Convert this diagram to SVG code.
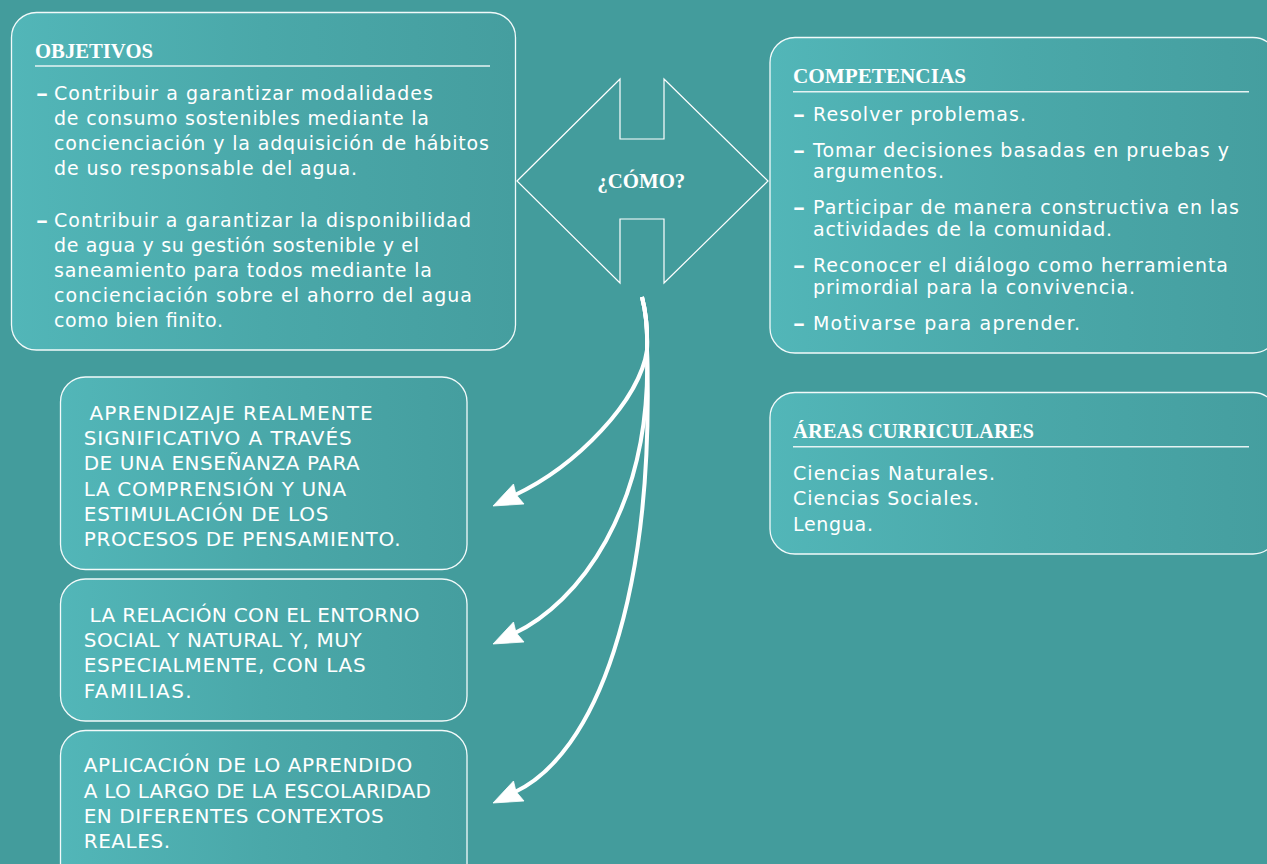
<svg xmlns="http://www.w3.org/2000/svg" width="1267" height="864" viewBox="0 0 1267 864">
<defs>
<linearGradient id="bx" x1="0" y1="0" x2="1" y2="0">
<stop offset="0" stop-color="#52b6b8"/>
<stop offset="0.5" stop-color="#4aa8a9"/>
<stop offset="1" stop-color="#459e9f"/>
</linearGradient>
<path id="ahd" d="M0,0 L20.5,-22 L23,-11.5 L31,-2 Z"/>
</defs>
<style>
.box{fill:url(#bx);stroke:#f2fafa;stroke-width:1.3}
.hd{font-family:"Liberation Serif","Times New Roman",serif;font-weight:bold;font-size:21px;fill:#ffffff}
.ul{stroke:#e6f3f3;stroke-width:1.5}
.tx{font-family:"DejaVu Sans","Liberation Sans",sans-serif;font-size:19px;fill:#ffffff}
.ds{font-family:"DejaVu Sans","Liberation Sans",sans-serif;font-size:19px;font-weight:bold;fill:#ffffff}
.cp{font-family:"DejaVu Sans","Liberation Sans",sans-serif;font-size:20px;fill:#ffffff}
.sh{fill:none;stroke:#ffffff;stroke-width:1.2}
.cn{fill:none;stroke:#ffffff;stroke-width:4}
.ah{fill:#ffffff;stroke:#ffffff;stroke-width:0.8;stroke-linejoin:round}
</style>
<rect width="1267" height="864" fill="#439c9c"/>

<g id="objetivos">
<rect class="box" x="11.5" y="12.5" width="504" height="337.5" rx="25"/>
<text class="hd" x="35" y="58" textLength="118" lengthAdjust="spacingAndGlyphs">OBJETIVOS</text>
<line class="ul" x1="35" y1="66" x2="490" y2="66"/>
<text class="ds" x="36" y="99.5" textLength="12" lengthAdjust="spacingAndGlyphs">–</text>
<text class="tx" x="54" y="99.5" textLength="379">Contribuir a garantizar modalidades</text>
<text class="tx" x="54" y="124.7" textLength="375">de consumo sostenibles mediante la</text>
<text class="tx" x="54" y="150" textLength="435">concienciación y la adquisición de hábitos</text>
<text class="tx" x="54" y="175.2" textLength="303">de uso responsable del agua.</text>
<text class="ds" x="36" y="226.5" textLength="12" lengthAdjust="spacingAndGlyphs">–</text>
<text class="tx" x="54" y="226.5" textLength="417">Contribuir a garantizar la disponibilidad</text>
<text class="tx" x="54" y="251.7" textLength="365">de agua y su gestión sostenible y el</text>
<text class="tx" x="54" y="277" textLength="378">saneamiento para todos mediante la</text>
<text class="tx" x="54" y="302" textLength="418">concienciación sobre el ahorro del agua</text>
<text class="tx" x="54" y="327" textLength="169">como bien finito.</text>
</g>

<g id="como">
<polygon class="sh" points="517,181 620,79 620,139 664,139 664,79 768,181 664,283 664,219 620,219 620,283"/>
<text class="hd" x="597.3" y="188.3" textLength="88" lengthAdjust="spacingAndGlyphs">¿CÓMO?</text>
</g>

<g id="competencias">
<rect class="box" x="770" y="37.5" width="508" height="315.5" rx="25"/>
<text class="hd" x="793" y="82.7" textLength="173" lengthAdjust="spacingAndGlyphs">COMPETENCIAS</text>
<line class="ul" x1="793" y1="91.7" x2="1249" y2="91.7"/>
<text class="ds" x="793" y="121" textLength="12" lengthAdjust="spacingAndGlyphs">–</text>
<text class="tx" x="813" y="121" textLength="213">Resolver problemas.</text>
<text class="ds" x="793" y="156.7" textLength="12" lengthAdjust="spacingAndGlyphs">–</text>
<text class="tx" x="813" y="156.7" textLength="416">Tomar decisiones basadas en pruebas y</text>
<text class="tx" x="813" y="177.7" textLength="131">argumentos.</text>
<text class="ds" x="793" y="214" textLength="12" lengthAdjust="spacingAndGlyphs">–</text>
<text class="tx" x="813" y="214" textLength="426">Participar de manera constructiva en las</text>
<text class="tx" x="813" y="235.7" textLength="299">actividades de la comunidad.</text>
<text class="ds" x="793" y="272.3" textLength="12" lengthAdjust="spacingAndGlyphs">–</text>
<text class="tx" x="813" y="272.3" textLength="415">Reconocer el diálogo como herramienta</text>
<text class="tx" x="813" y="294.3" textLength="322">primordial para la convivencia.</text>
<text class="ds" x="793" y="330" textLength="12" lengthAdjust="spacingAndGlyphs">–</text>
<text class="tx" x="813" y="330" textLength="267">Motivarse para aprender.</text>
</g>

<g id="areas">
<rect class="box" x="770" y="392.5" width="508" height="161.5" rx="25"/>
<text class="hd" x="793" y="438.3" textLength="241" lengthAdjust="spacingAndGlyphs">ÁREAS CURRICULARES</text>
<line class="ul" x1="793" y1="446.7" x2="1249" y2="446.7"/>
<text class="tx" x="793" y="480" textLength="202">Ciencias Naturales.</text>
<text class="tx" x="793" y="505" textLength="186">Ciencias Sociales.</text>
<text class="tx" x="793" y="530.7" textLength="80">Lengua.</text>
</g>

<g id="aprendizaje">
<rect class="box" x="60.5" y="377" width="406.5" height="192.5" rx="25"/>
<text class="cp" x="89.6" y="420" textLength="283">APRENDIZAJE REALMENTE</text>
<text class="cp" x="83.7" y="445" textLength="268">SIGNIFICATIVO A TRAVÉS</text>
<text class="cp" x="83.7" y="470" textLength="276">DE UNA ENSEÑANZA PARA</text>
<text class="cp" x="83.7" y="495.7" textLength="262.5">LA COMPRENSIÓN Y UNA</text>
<text class="cp" x="83.7" y="521" textLength="244.7">ESTIMULACIÓN DE LOS</text>
<text class="cp" x="83.7" y="546" textLength="316.8">PROCESOS DE PENSAMIENTO.</text>
</g>

<g id="relacion">
<rect class="box" x="60.5" y="579" width="406.5" height="142" rx="25"/>
<text class="cp" x="89.6" y="621.7" textLength="330">LA RELACIÓN CON EL ENTORNO</text>
<text class="cp" x="83.7" y="646.7" textLength="278">SOCIAL Y NATURAL Y, MUY</text>
<text class="cp" x="83.7" y="672.3" textLength="282">ESPECIALMENTE, CON LAS</text>
<text class="cp" x="83.7" y="697.7" textLength="108">FAMILIAS.</text>
</g>

<g id="aplicacion">
<rect class="box" x="60.5" y="730.5" width="406.5" height="160" rx="25"/>
<text class="cp" x="83.7" y="772.3" textLength="328.6">APLICACIÓN DE LO APRENDIDO</text>
<text class="cp" x="83.7" y="798.3" textLength="347.3">A LO LARGO DE LA ESCOLARIDAD</text>
<text class="cp" x="83.7" y="823.3" textLength="300.1">EN DIFERENTES CONTEXTOS</text>
<text class="cp" x="83.7" y="848.3" textLength="86.3">REALES.</text>
</g>

<g id="connectors">
<path class="cn" d="M642,297 Q648,320 647,350 C640,400 577,466 514,495.5"/>
<path class="cn" d="M642,297 Q648,320 647,350 C652,510 577,604 514,633.5"/>
<path class="cn" d="M642,297 Q648,320 647,350 C655,600 595.2,754.9 514,792.5"/>
<use href="#ahd" class="ah" x="493" y="506"/>
<use href="#ahd" class="ah" x="493" y="644"/>
<use href="#ahd" class="ah" x="493" y="803"/>
</g>
</svg>
